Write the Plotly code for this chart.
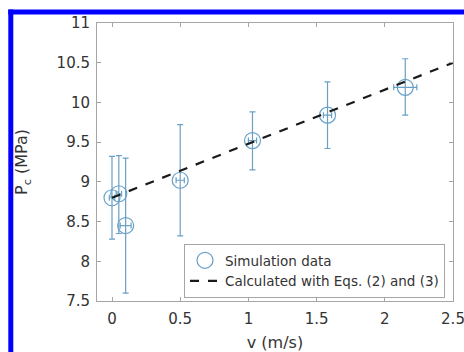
import plotly.graph_objects as go

# Simulation data
v_sim = [0.0, 0.05, 0.1, 0.5, 1.03, 1.58, 2.15]
p_sim = [8.80, 8.85, 8.45, 9.02, 9.52, 9.84, 10.19]
err_up = [0.52, 0.48, 0.85, 0.70, 0.36, 0.42, 0.36]
err_down = [0.52, 0.50, 0.85, 0.70, 0.37, 0.42, 0.35]
err_v = [0.02, 0.02, 0.04, 0.03, 0.03, 0.03, 0.085]

# Calculated line
v_calc = [0.0, 2.5]
p_calc = [8.80, 10.50]

x_ticks = [0, 0.5, 1, 1.5, 2, 2.5]
x_tick_labels = ["0", "0.5", "1", "1.5", "2", "2.5"]
y_ticks = [7.5, 8, 8.5, 9, 9.5, 10, 10.5, 11]
y_tick_labels = ["7.5", "8", "8.5", "9", "9.5", "10", "10.5", "11"]

W, H = 464, 352
ml, mr, mt, mb = 97, 11, 23, 51
pw, ph = W - ml - mr, H - mt - mb

blue = "rgb(105,160,198)"
axc = "#a6a6a6"
txt = "#333333"
FONT = "DejaVu Sans, Liberation Sans, Arial, sans-serif"

fig = go.Figure()
fig.add_trace(go.Scatter(
    x=v_sim, y=p_sim, mode="markers", name="Simulation data",
    marker=dict(symbol="circle-open", size=16, color=blue, line=dict(width=1.2, color=blue)),
    error_y=dict(type="data", symmetric=False, array=err_up, arrayminus=err_down,
                 color=blue, thickness=1.2, width=3),
    error_x=dict(type="data", array=err_v, color=blue, thickness=1.2, width=3),
))
fig.add_trace(go.Scatter(
    x=v_calc, y=p_calc, mode="lines", name="Calculated with Eqs. (2) and (3)",
    line=dict(color="#1a1a1a", width=2.2, dash="dash"),
))

def px_x(p):
    return (p - ml) / pw

def px_y(p):
    return (H - mb - p) / ph

# blue frame (top and left edges visible in the picture)
fig.add_shape(type="line", xref="paper", yref="paper",
              x0=px_x(8.3), x1=px_x(480), y0=px_y(12), y1=px_y(12),
              line=dict(color="#0000ff", width=5), layer="above")
fig.add_shape(type="line", xref="paper", yref="paper",
              x0=px_x(10.8), x1=px_x(10.8), y0=px_y(9.5), y1=px_y(380),
              line=dict(color="#0000ff", width=5), layer="above")

fig.update_layout(
    width=W, height=H,
    margin=dict(l=ml, r=mr, t=mt, b=mb, autoexpand=False),
    paper_bgcolor="white", plot_bgcolor="white",
    font=dict(family=FONT, size=15, color=txt),
    showlegend=True,
    legend=dict(x=px_x(184), y=px_y(244), xanchor="left", yanchor="top",
                bgcolor="white", bordercolor=axc, borderwidth=1,
                font=dict(size=13.5, color=txt), tracegroupgap=0, itemwidth=30),
)
fig.update_xaxes(range=[-0.11, 2.5], tickvals=x_ticks, ticktext=x_tick_labels,
                 ticks="inside", ticklen=4, tickcolor=axc, showline=True, linecolor=axc,
                 linewidth=1, mirror="ticks", showgrid=False, zeroline=False,
                 automargin=False,
                 tickfont=dict(size=15), ticklabelstandoff=4, ticklabeloverflow="allow",
                 title=dict(text="v (m/s)", standoff=10, font=dict(size=16)))
fig.update_yaxes(range=[7.5, 11], tickvals=y_ticks, ticktext=y_tick_labels,
                 ticks="inside", ticklen=4, tickcolor=axc, showline=True, linecolor=axc,
                 linewidth=1, mirror="ticks", showgrid=False, zeroline=False,
                 automargin=False,
                 tickfont=dict(size=15), ticklabelstandoff=3,
                 title=dict(text="P<sub>c</sub> (MPa)", standoff=24, font=dict(size=16)))

fig.write_html("out.html", config={"displayModeBar": False},
               post_script="document.body.style.margin='0';document.body.style.overflow='hidden';")
